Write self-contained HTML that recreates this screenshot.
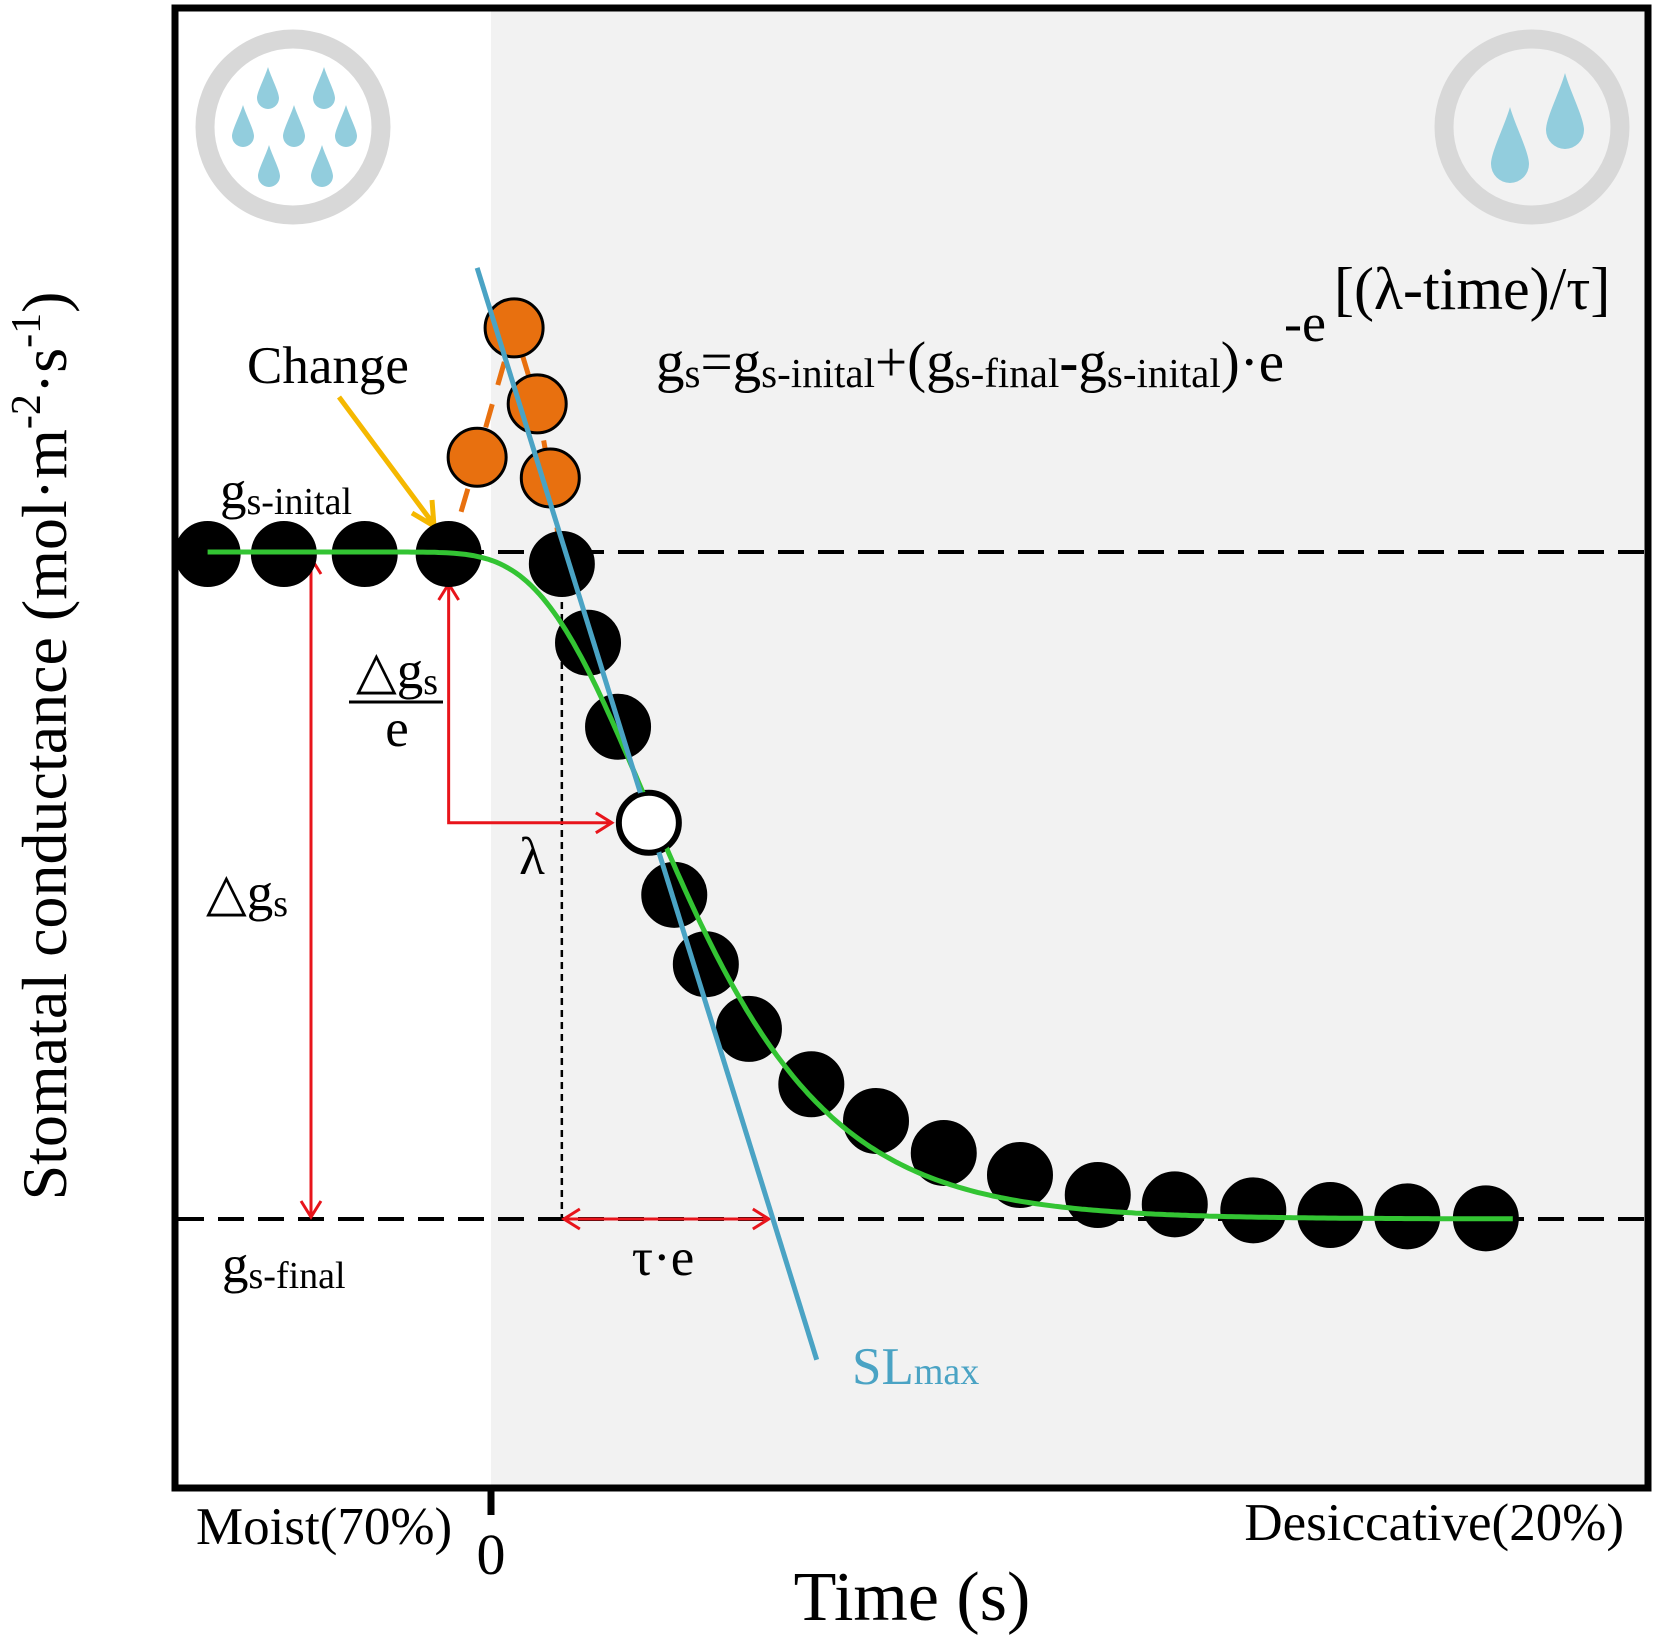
<!DOCTYPE html>
<html><head><meta charset="utf-8"><style>
html,body{margin:0;padding:0;background:#fff;}
svg{display:block;font-family:"Liberation Serif",serif;}
</style></head><body>
<svg id="chart" width="1662" height="1640" viewBox="0 0 1662 1640">
<defs>
<g id="drop-s"><path d="M0,0 C3,10 11,25 11,31 A11,11 0 0 1 -11,31 C-11,25 -3,10 0,0Z" fill="#92cddd"/></g>
<g id="drop-l"><path d="M0,0 C5,18 19,45 19,57 A19,19 0 0 1 -19,57 C-19,45 -5,18 0,0Z" fill="#92cddd"/></g>
</defs>
<rect x="491" y="8" width="1157" height="1480" fill="#f2f2f2"/>
<g>
<circle cx="293" cy="127" r="88" fill="#fff" stroke="#d8d8d8" stroke-width="19"/>
<use href="#drop-s" x="268" y="67"/><use href="#drop-s" x="324" y="67"/>
<use href="#drop-s" x="243" y="105"/><use href="#drop-s" x="294" y="105"/><use href="#drop-s" x="346" y="105"/>
<use href="#drop-s" x="269" y="145"/><use href="#drop-s" x="322" y="145"/>
</g>
<g>
<circle cx="1532" cy="127" r="88" fill="none" stroke="#d8d8d8" stroke-width="19"/>
<use href="#drop-l" x="1565" y="73"/><use href="#drop-l" x="1510" y="107"/>
</g>
<g id="marks"></g>
<rect x="175" y="8" width="1473" height="1480" fill="none" stroke="#000" stroke-width="7"/>
<line x1="491" y1="1488" x2="491" y2="1515" stroke="#000" stroke-width="7"/>
<g font-size="53" fill="#000">
<text x="196" y="1544">Moist(70%)</text>
<text x="491" y="1574" text-anchor="middle" font-size="58">0</text>
<text x="1624" y="1540" text-anchor="end">Desiccative(20%)</text>
<text x="912" y="1620" text-anchor="middle" font-size="70">Time (s)</text>
<text transform="translate(66,746) rotate(-90)" text-anchor="middle" font-size="64">Stomatal conductance (mol·m<tspan dy="-26" font-size="42">-2</tspan><tspan dy="26">·s</tspan><tspan dy="-26" font-size="42">-1</tspan><tspan dy="26">)</tspan></text>
<text x="328" y="383" text-anchor="middle">Change</text>
<text x="220" y="508">g<tspan font-size="38" dy="6">s-inital</tspan></text>
<text x="222" y="1282">g<tspan font-size="38" dy="6">s-final</tspan></text>
<text x="206" y="910">△g<tspan font-size="38" dy="6">s</tspan></text>
<text x="397" y="688" text-anchor="middle">△g<tspan font-size="38" dy="6">s</tspan></text>
<line x1="349" y1="702" x2="443" y2="702" stroke="#000" stroke-width="3"/>
<text x="397" y="746" text-anchor="middle">e</text>
<text x="532" y="874" text-anchor="middle">λ</text>
<text x="663" y="1275" text-anchor="middle">τ·e</text>
<text x="852" y="1384" fill="#4aa3c4">SL<tspan font-size="38">max</tspan></text>
<text x="656" y="381" font-size="57">g<tspan font-size="41" dy="6">s</tspan><tspan dy="-6">=g</tspan><tspan font-size="41" dy="6">s-inital</tspan><tspan dy="-6">+(g</tspan><tspan font-size="41" dy="6">s-final</tspan><tspan dy="-6" font-weight="bold">-</tspan><tspan>g</tspan><tspan font-size="41" dy="6">s-inital</tspan><tspan dy="-6">)·e</tspan><tspan dy="-40" font-size="54">-e</tspan><tspan dy="-32" dx="8" font-size="60">[(λ-time)/τ]</tspan></text>
</g>
</svg>
<script>
// data
const gsTimes = [-3.68,-2.69,-1.64,-0.55,0.92,1.26,1.65,2.05,2.38,2.79,3.35,4.16,5.0,5.88,6.87,7.88,8.88,9.9,10.9,11.9,12.92];
const gsValues = [0.997,0.997,0.997,0.997,0.982,0.864,0.738,0.594,0.486,0.382,0.285,0.202,0.147,0.099,0.066,0.036,0.022,0.013,0.006,0.004,0.001];
const lambdaIndex = 7;
const changeTimes = [-0.18,0.30,0.60,0.77];
const changeValues = [1.142,1.336,1.222,1.111];
const slTimes = [-0.18,4.23];
const slValues = [1.426,-0.211];
const fitParams = [1.0, 0.0, 2.0, 1.35]; // gsInitial, gsFinal, lambda, tau
const refLevels = [1.0, 0.0];

const X0=491, XU=77, Y0=1219, YU=667;
function xs(t){return X0+t*XU;}
function ys(g){return Y0-g*YU;}
const NS='http://www.w3.org/2000/svg';
const marks=document.getElementById('marks');
function mk(tag,attrs){const e=document.createElementNS(NS,tag);for(const k in attrs)e.setAttribute(k,attrs[k]);marks.appendChild(e);return e;}

refLevels.forEach((lv,i)=>{
  const l=mk('line',{x1:178,x2:1648,y1:ys(lv),y2:ys(lv),stroke:'#000','stroke-width':4,'stroke-dasharray':'26 14'});
  
  
});
const tl=gsTimes[4];
const dv=mk('line',{x1:xs(tl),x2:xs(tl),y1:ys(gsValues[4])+14,y2:ys(refLevels[1]),stroke:'#000','stroke-width':2.5,'stroke-dasharray':'7 5'});



function arrowHead(x,y,dir){
  const s=16,w=10;let d;
  if(dir==='up')d=`M${x-w},${y+s}L${x},${y}L${x+w},${y+s}`;
  if(dir==='down')d=`M${x-w},${y-s}L${x},${y}L${x+w},${y-s}`;
  if(dir==='left')d=`M${x+s},${y-w}L${x},${y}L${x+s},${y+w}`;
  if(dir==='right')d=`M${x-s},${y-w}L${x},${y}L${x-s},${y+w}`;
  return d;
}
const red='#e8141b';
const a1x=311;
const ra1=mk('path',{d:`M${a1x},${ys(1)+6}L${a1x},${ys(0)-2}`+arrowHead(a1x,ys(1)+6,'up')+arrowHead(a1x,ys(0)-2,'down'),stroke:red,'stroke-width':3,fill:'none'});


const a2x=xs(gsTimes[3]);const ly=ys(gsValues[lambdaIndex]);const lx=xs(gsTimes[lambdaIndex])-37;
const ra2=mk('path',{d:`M${a2x},${ys(1)+32}L${a2x},${ly}L${lx},${ly}`+arrowHead(a2x,ys(1)+32,'up')+arrowHead(lx,ly,'right'),stroke:red,'stroke-width':3,fill:'none'});


const tx2=xs(tl)+207;
const ra3=mk('path',{d:`M${xs(tl)+2},${ys(0)}L${tx2},${ys(0)}`+arrowHead(xs(tl)+2,ys(0),'left')+arrowHead(tx2,ys(0),'right'),stroke:red,'stroke-width':3,fill:'none'});



const ya=mk('path',{d:'M339,397L432,522M412,513L434,526L432,500',stroke:'#f5b800','stroke-width':5,fill:'none'});



let od=`M${xs(gsTimes[3])},${ys(gsValues[3])}`;
changeTimes.forEach((t,i)=>{od+=`L${xs(t)},${ys(changeValues[i])}`;});
od+=`L${xs(gsTimes[4])},${ys(gsValues[4])}`;
const op=mk('path',{d:od,stroke:'#e8700f','stroke-width':5,fill:'none','stroke-dasharray':'24 20'});



gsTimes.forEach((t,i)=>{
  const c=mk('circle',{cx:xs(t),cy:ys(gsValues[i]),r:31,fill:i===lambdaIndex?'#fff':'#000',stroke:'#000','stroke-width':4});
  
  
});
changeTimes.forEach((t,i)=>{
  const c=mk('circle',{cx:xs(t),cy:ys(changeValues[i]),r:29,fill:'#e8700f',stroke:'#000','stroke-width':3});
  
  
});

let gd='';
for(let t=gsTimes[0];t<=gsTimes[gsTimes.length-1]+0.4;t+=0.05){
  const [gi,gf,lam,tau]=fitParams;
  const g=gi+(gf-gi)*Math.exp(-Math.exp((lam-t)/tau));
  gd+=(gd?'L':'M')+xs(t).toFixed(1)+','+ys(g).toFixed(1);
}
const gp=mk('path',{d:gd,stroke:'#33c433','stroke-width':5,fill:'none'});



const sl=mk('line',{x1:xs(slTimes[0]),y1:ys(slValues[0]),x2:xs(slTimes[1]),y2:ys(slValues[1]),stroke:'#4aa3c4','stroke-width':5});



const lp=mk('circle',{cx:xs(gsTimes[lambdaIndex]),cy:ys(gsValues[lambdaIndex]),r:29,fill:'#fff',stroke:'#000','stroke-width':4});


</script>
</body></html>
